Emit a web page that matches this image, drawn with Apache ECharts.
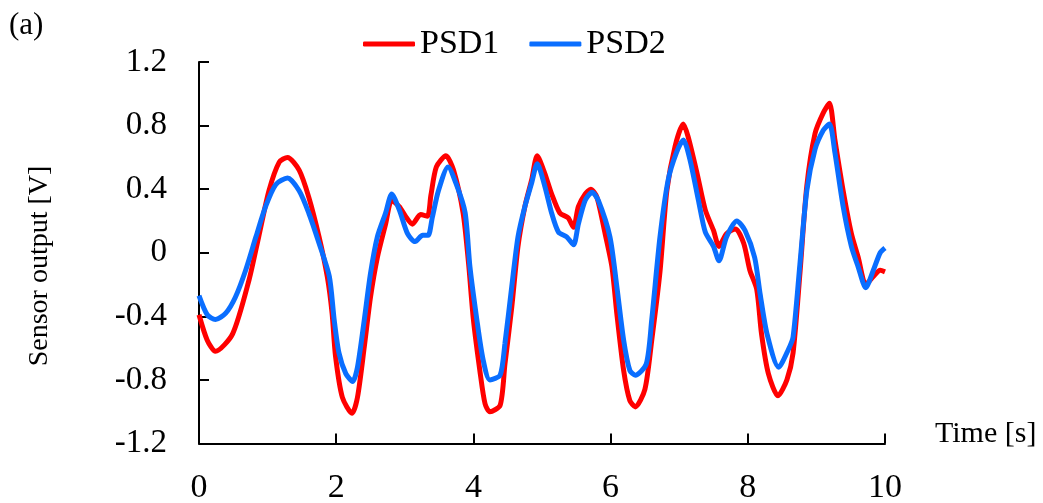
<!DOCTYPE html>
<html>
<head>
<meta charset="utf-8">
<title>Sensor output</title>
<script src="https://cdn.jsdelivr.net/npm/echarts@6.0.0/dist/echarts.min.js"></script>
<style>
  html, body { margin: 0; padding: 0; background: #fff; }
  #chart { width: 1043px; height: 503px; }
</style>
</head>
<body>
<div id="chart"></div>
<script>
// values
var psd1Time = [0.00, 0.12, 0.24, 0.49, 0.73, 0.87, 1.02, 1.17, 1.29, 1.46, 1.60, 1.75, 1.87, 1.94, 1.99,
  2.09, 2.23, 2.31, 2.41, 2.50, 2.60, 2.72, 2.81, 2.92, 3.01, 3.11, 3.23, 3.33, 3.38, 3.46, 3.60,
  3.71, 3.85, 3.93, 4.00, 4.10, 4.17, 4.24, 4.39, 4.46, 4.56, 4.65, 4.75, 4.85, 4.93, 5.04, 5.14,
  5.26, 5.38, 5.46, 5.53, 5.63, 5.71, 5.80, 5.92, 6.02, 6.09, 6.19, 6.28, 6.36, 6.50, 6.60, 6.72,
  6.82, 6.94, 7.06, 7.13, 7.26, 7.38, 7.50, 7.58, 7.69, 7.82, 7.94, 8.03, 8.13, 8.20, 8.30, 8.44,
  8.57, 8.66, 8.76, 8.86, 8.98, 9.10, 9.19, 9.27, 9.39, 9.51, 9.61, 9.72, 9.83, 9.93, 10.00];
var psd1Volt = [-0.39, -0.55, -0.62, -0.51, -0.17, 0.10, 0.39, 0.57, 0.60, 0.52, 0.35, 0.10, -0.15, -0.38, -0.65,
  -0.91, -1.01, -0.91, -0.59, -0.28, -0.03, 0.18, 0.33, 0.29, 0.23, 0.18, 0.24, 0.23, 0.36, 0.54, 0.61,
  0.52, 0.25, -0.07, -0.42, -0.76, -0.95, -1.00, -0.96, -0.70, -0.34, 0.04, 0.29, 0.46, 0.61, 0.50, 0.37,
  0.25, 0.22, 0.16, 0.29, 0.37, 0.40, 0.35, 0.12, -0.09, -0.38, -0.74, -0.93, -0.97, -0.86, -0.55, -0.12,
  0.39, 0.67, 0.81, 0.73, 0.50, 0.27, 0.14, 0.04, 0.12, 0.15, 0.06, -0.11, -0.23, -0.51, -0.76, -0.90,
  -0.80, -0.63, -0.13, 0.42, 0.75, 0.88, 0.94, 0.71, 0.39, 0.12, -0.03, -0.20, -0.15, -0.11, -0.12];

var psd2Time = [0.00, 0.12, 0.24, 0.39, 0.53, 0.68, 0.83, 0.97, 1.12, 1.29, 1.46, 1.60, 1.75, 1.90, 1.97,
  2.04, 2.14, 2.24, 2.31, 2.41, 2.50, 2.60, 2.72, 2.81, 2.92, 3.04, 3.15, 3.26, 3.34, 3.40, 3.49,
  3.63, 3.76, 3.88, 3.95, 4.05, 4.14, 4.24, 4.39, 4.46, 4.56, 4.65, 4.75, 4.85, 4.93, 5.04, 5.14,
  5.24, 5.36, 5.46, 5.53, 5.63, 5.73, 5.82, 5.99, 6.09, 6.19, 6.28, 6.36, 6.52, 6.60, 6.72, 6.84,
  6.96, 7.06, 7.16, 7.28, 7.38, 7.50, 7.58, 7.69, 7.84, 7.96, 8.10, 8.18, 8.28, 8.45, 8.59, 8.66,
  8.76, 8.86, 8.98, 9.10, 9.19, 9.27, 9.39, 9.51, 9.61, 9.72, 9.83, 9.93, 10.00];
var psd2Volt = [-0.27, -0.39, -0.42, -0.38, -0.28, -0.11, 0.10, 0.29, 0.43, 0.47, 0.39, 0.25, 0.06, -0.15, -0.42,
  -0.63, -0.76, -0.81, -0.72, -0.42, -0.13, 0.10, 0.25, 0.37, 0.27, 0.12, 0.07, 0.11, 0.11, 0.22, 0.39,
  0.54, 0.42, 0.25, -0.09, -0.42, -0.67, -0.80, -0.77, -0.57, -0.21, 0.10, 0.29, 0.44, 0.56, 0.42, 0.25,
  0.13, 0.10, 0.05, 0.18, 0.33, 0.38, 0.33, 0.10, -0.21, -0.55, -0.74, -0.77, -0.70, -0.42, 0.10, 0.46,
  0.63, 0.71, 0.58, 0.33, 0.13, 0.04, -0.05, 0.10, 0.20, 0.14, -0.03, -0.26, -0.51, -0.72, -0.61, -0.53,
  -0.07, 0.39, 0.65, 0.77, 0.81, 0.63, 0.29, 0.04, -0.09, -0.22, -0.11, 0.00, 0.03];

var seriesNames = ['PSD1', 'PSD2'];
var seriesColors = ['#ff0000', '#0a6eff'];

function pairs(xs, ys) {
  return xs.map(function (x, i) { return [x, ys[i]] })
}

var font = '"Liberation Serif", "Times New Roman", serif';
var chart = echarts.init(document.getElementById('chart'), null, { renderer: 'canvas' });

chart.setOption({
  animation: false,
  backgroundColor: '#fff',
  textStyle: { fontFamily: font, color: '#000' },
  graphic: [{
    type: 'text',
    x: 9,
    y: 26,
    style: { text: '(a)', fontFamily: font, fontSize: 31, fill: '#000', verticalAlign: 'middle' }
  }, {
    // y axis title, placed by hand like in the paper figure
    type: 'text',
    x: 40,
    y: 266,
    rotation: Math.PI / 2,
    style: {
      text: 'Sensor output [V]', fontFamily: font, fontSize: 28, fill: '#000',
      align: 'center', verticalAlign: 'middle'
    }
  }, {
    type: 'text',
    x: 935,
    y: 434,
    style: { text: 'Time [s]', fontFamily: font, fontSize: 30, fill: '#000', verticalAlign: 'middle' }
  }],
  legend: {
    data: seriesNames,
    left: 358,
    top: 22,
    itemWidth: 52,
    itemHeight: 5,
    itemGap: 30,
    icon: 'roundRect',
    textStyle: { fontFamily: font, fontSize: 34, color: '#000' }
  },
  grid: {
    left: 199,
    right: 158,
    top: 62,
    bottom: 59.5,
    containLabel: false,
    outerBoundsMode: 'none'
  },
  xAxis: {
    type: 'value',
    min: 0,
    max: 10,
    interval: 2,
    axisLine: { onZero: false, lineStyle: { color: '#000', width: 2 } },
    axisTick: { inside: true, length: 10, lineStyle: { color: '#000', width: 2 } },
    axisLabel: { margin: 28, fontFamily: font, fontSize: 34, color: '#000' },
    splitLine: { show: false }
  },
  yAxis: {
    type: 'value',
    min: -1.2,
    max: 1.2,
    interval: 0.4,
    axisLine: { show: true, onZero: false, lineStyle: { color: '#000', width: 2 } },
    axisTick: { show: true, inside: true, length: 10, lineStyle: { color: '#000', width: 2 } },
    axisLabel: { margin: 32, fontFamily: font, fontSize: 33, color: '#000' },
    splitLine: { show: false }
  },
  series: [{
    name: seriesNames[0],
    type: 'line',
    data: pairs(psd1Time, psd1Volt),
    showSymbol: false,
    smooth: 0.25,
    color: seriesColors[0],
    lineStyle: { color: seriesColors[0], width: 5 }
  }, {
    name: seriesNames[1],
    type: 'line',
    data: pairs(psd2Time, psd2Volt),
    showSymbol: false,
    smooth: 0.25,
    color: seriesColors[1],
    lineStyle: { color: seriesColors[1], width: 5 }
  }]
});
</script>
</body>
</html>
